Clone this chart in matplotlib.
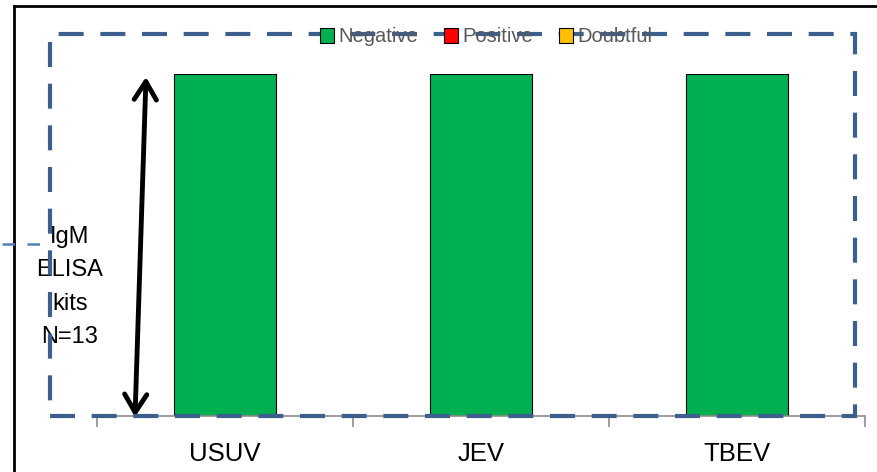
import matplotlib
matplotlib.use("Agg")
import matplotlib.pyplot as plt
import matplotlib.patches as mpatches
from matplotlib.lines import Line2D
import numpy as np

# ---------------------------------------------------------------------------
# Data
# ---------------------------------------------------------------------------
viruses  = ["USUV", "JEV", "TBEV"]
negative = [13, 13, 13]
positive = [0, 0, 0]
doubtful = [0, 0, 0]
n_kits   = 13

COL_NEG = "#00B050"
COL_POS = "#FF0000"
COL_DBT = "#FFC000"
COL_BOX = "#3C5F8E"
FONT    = "Liberation Sans"

W, H = 877, 472
fig = plt.figure(figsize=(W / 100, H / 100), dpi=100)
fig.patch.set_facecolor("white")

def fx(px):
    return px / W

def fy(py):
    return 1 - py / H

# akse: x 97..865 px, y 74..416 px
ax = fig.add_axes([fx(97), fy(416), fx(865) - fx(97), fy(74) - fy(416)])
x = np.arange(len(viruses))
ax.bar(x, negative, width=0.4, color=COL_NEG, edgecolor="black", lw=0.8)
ax.bar(x, positive, width=0.4, bottom=negative, color=COL_POS)
ax.bar(x, doubtful, width=0.4, bottom=np.add(negative, positive), color=COL_DBT)
ax.set_xlim(-0.5, len(viruses) - 0.5)
ax.set_ylim(0, n_kits)
for s in ["top", "right", "left"]:
    ax.spines[s].set_visible(False)
ax.spines["bottom"].set_color("#8C8C8C")
ax.spines["bottom"].set_linewidth(1.2)
ax.set_yticks([])
ax.set_xticks(x)
ax.set_xticklabels(viruses, fontsize=18.5, family=FONT)
ax.tick_params(axis="x", length=0, pad=19)
ax.set_xticks(np.arange(len(viruses) + 1) - 0.5, minor=True)
ax.tick_params(axis="x", which="minor", length=8, color="#8C8C8C", width=1.2)
ax.patch.set_alpha(0)

# ramme (svart) venstre og topp
fig.add_artist(Line2D([fx(14), fx(14)], [fy(6), 0], color="black", lw=2,
                      transform=fig.transFigure))
fig.add_artist(Line2D([fx(14), 1], [fy(6), fy(6)], color="black", lw=2,
                      transform=fig.transFigure))

# stiplet rektangel
rect = mpatches.Rectangle((fx(50), fy(416)), fx(855) - fx(50), fy(34) - fy(416),
                          transform=fig.transFigure, fill=False,
                          edgecolor=COL_BOX, lw=3, linestyle=(0, (6, 4)), zorder=5)
fig.add_artist(rect)

# liten stiplet linje til venstre
fig.add_artist(Line2D([fx(2), fx(48)], [fy(244), fy(244)], color="#4F81BD", lw=1.8,
                      linestyle=(0, (5, 5)), transform=fig.transFigure))

# dobbeltpil og tekst i pikselkoordinater
ax_full = fig.add_axes([0, 0, 1, 1])
ax_full.set_xlim(0, W)
ax_full.set_ylim(H, 0)
ax_full.axis("off")
ax_full.annotate("", xy=(135, 417), xytext=(146, 77),
                 arrowprops=dict(arrowstyle="<->,head_length=1.3,head_width=0.8",
                                 color="black", lw=3.5, shrinkA=0, shrinkB=0,
                                 capstyle="round", joinstyle="round"))

ax_full.text(70, 287, f"IgM\nELISA\nkits\nN={n_kits}", ha="center", va="center",
             fontsize=17, family=FONT, linespacing=1.68)

# legende
handles = [mpatches.Patch(facecolor=c, edgecolor="black", lw=0.8, label=l)
           for c, l in [(COL_NEG, "Negative"), (COL_POS, "Positive"), (COL_DBT, "Doubtful")]]
leg = fig.legend(handles=handles, loc="center", bbox_to_anchor=(fx(486), fy(37)),
                 ncol=3, frameon=False, handlelength=0.7, handleheight=0.7,
                 handletextpad=0.2, columnspacing=1.3, prop={"family": FONT, "size": 14.5})
for t in leg.get_texts():
    t.set_color("#595959")

fig.savefig("out.png", dpi=100)
